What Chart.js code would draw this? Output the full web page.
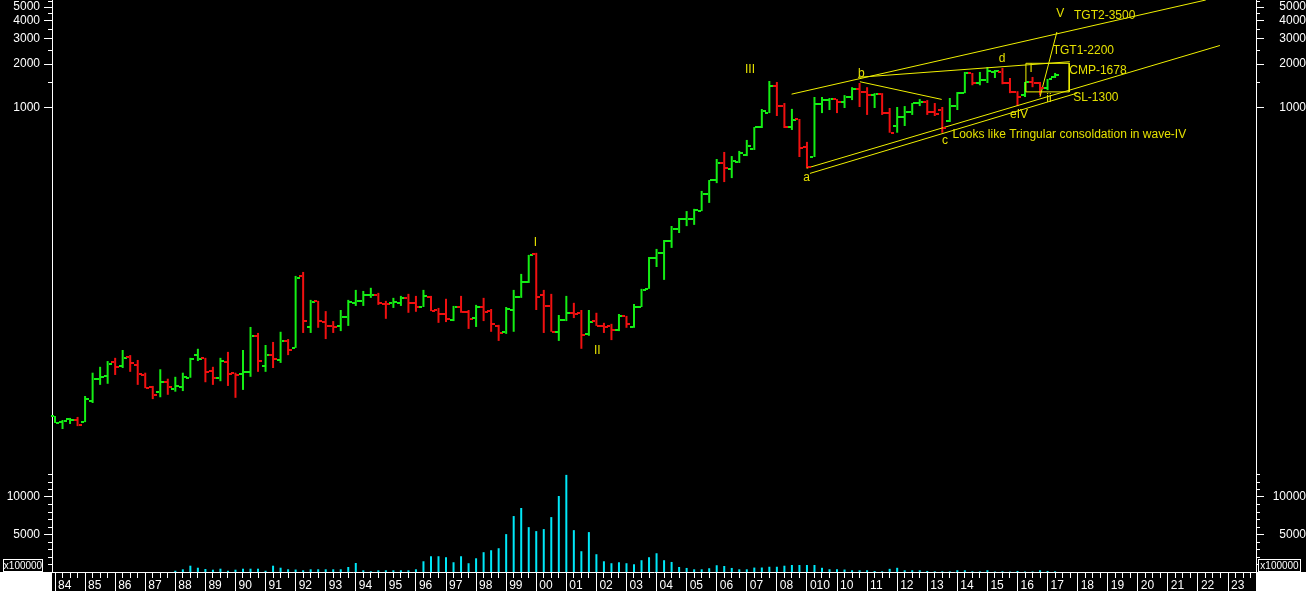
<!DOCTYPE html>
<html>
<head>
<meta charset="utf-8">
<script src="https://cdn.jsdelivr.net/npm/chart.js@4.4.1/dist/chart.umd.min.js"></script>
<style>
  html, body { margin: 0; padding: 0; background: #000; }
  #wrap { position: relative; width: 1306px; height: 591px; background: #000; overflow: hidden; }
  #price { position: absolute; left: 0; top: 0; width: 1306px; height: 470px; }
  #vol { position: absolute; left: 0; top: 470px; width: 1306px; height: 121px; }
</style>
</head>
<body>
<div id="wrap">
  <canvas id="price" width="1306" height="470"></canvas>
  <canvas id="vol" width="1306" height="121"></canvas>
</div>
<script>
// quarterly bars, 1984 Q1 .. 2017 Q2
const firstYear = 1984;
const open = [7.03,6.38,6.71,6.60,6.38,8.95,12.8,13.4,16.7,15.7,18.1,16.0,13.6,11.2,10.4,12.1,
  10.8,11.2,13.0,18.7,17.9,14.5,13.0,16.7,14.1,13.8,14.3,25.5,15.7,18.7,17.3,23.5,
  21.0,66.7,29.4,44.7,31.8,29.9,29.9,34.5,43.3,44.7,49.2,49.2,42.5,43.3,43.3,46.9,
  43.3,40.5,47.6,38.6,36.2,32.9,40.5,37.5,33.9,40.5,37.9,29.9,27.2,38.6,47.6,60.7,
  95.0,49.2,41.2,27.2,32.9,36.9,36.9,26.3,32.3,29.9,29.9,28.0,35.1,29.4,40.5,54.2,
  89.1,96.6,116.9,141.9,166.2,166.2,188.9,248.3,311.0,408.8,370.9,414.7,465.2,512.3,728.2,911.3,
  1407,1020,728.2,828.8,529.2,450.1,1054,1123,1141,1088,1180,1337,1277,1216,1235,911.3,
  740.9,856.5,928.6,1071,1088,928.6,957.1,802.5,1020,1255,1736,1478,1550,1764,1764,1478,
  1277,1216,1502,1478,1363,1628];
const high = [7.03,6.60,6.82,6.93,9.70,14.1,15.5,17.0,17.9,20.3,18.7,17.3,14.1,11.4,14.9,12.8,
  13.2,14.1,17.9,20.7,17.9,15.5,17.9,19.7,14.1,20.3,29.4,26.7,22.0,23.1,27.2,24.2,
  66.7,71.1,45.4,44.7,37.9,32.3,38.6,45.4,53.3,52.4,55.1,50.8,44.7,46.9,48.4,50.0,
  48.4,53.3,48.4,39.9,46.2,41.2,48.4,38.6,41.9,46.9,39.2,30.4,40.5,53.3,68.9,93.5,
  96.6,53.3,50.0,35.6,48.4,43.3,38.6,38.6,36.9,31.4,30.9,36.2,35.1,42.5,54.2,90.4,
  102.9,118.8,148.7,169.1,188.9,195.8,261.2,311.0,436.0,488.2,457.1,496.3,592.0,728.2,972.8,1525,
  1502,1071,974.8,828.8,573.9,1180,1180,1161,1141,1216,1381,1478,1381,1255,1255,988.8,
  1005,1020,1071,1141,1123,1071,1005,1161,1277,1764,1736,1764,1910,1821,1879,1601,
  1295,1502,1628,1502,1575,1736];
const low = [6.29,5.71,6.19,5.98,6.38,8.67,11.6,11.8,13.6,15.2,14.3,11.6,11.0,9.23,9.51,9.89,
  10.4,10.5,13.0,17.0,12.1,11.6,12.3,11.4,9.42,10.7,13.2,14.3,14.3,15.2,16.5,18.7,
  21.0,26.7,26.7,29.0,24.2,26.7,27.5,29.9,41.2,41.2,46.9,41.9,33.5,39.9,41.2,36.9,
  37.5,40.5,37.9,31.4,31.8,32.3,36.9,28.5,29.4,32.3,27.2,23.5,26.3,27.2,46.9,59.6,
  38.6,26.7,27.2,23.5,32.3,33.9,20.7,25.5,29.9,26.7,23.8,27.5,29.0,29.0,40.5,54.2,
  77.0,62.6,104.6,132.8,148.4,151.4,188.9,215.5,296.0,301.0,320.9,408.8,457.1,504.3,717.2,911.3,
  869.8,717.2,695.1,450.1,376.9,450.1,911.3,957.1,911.3,988.8,1123,1005,885.1,988.8,885.1,664.8,
  664.8,740.9,885.1,1020,885.1,869.8,664.8,789.4,957.1,1255,1425,1425,1478,1601,1448,1255,
  1020,1180,1381,1216,1316,1601];
const close = [6.29,6.48,6.60,6.08,9.23,12.8,13.2,16.3,15.5,17.9,16.5,13.8,11.0,9.89,12.1,11.2,
  11.4,13.2,17.6,17.6,14.3,13.0,17.0,13.8,13.6,14.3,25.5,17.0,18.7,17.6,23.5,20.3,
  64.6,32.3,44.0,32.3,29.9,29.4,34.5,44.0,44.7,49.2,49.2,43.3,42.5,44.0,46.9,43.3,
  40.5,48.4,37.9,36.2,33.5,40.5,37.5,33.5,40.5,37.5,30.9,26.7,39.2,47.6,60.7,93.5,
  47.6,41.2,27.2,32.9,36.9,36.2,25.8,31.8,29.9,29.4,28.0,35.1,30.9,40.5,53.3,89.1,
  96.6,116.9,141.9,166.2,166.2,191.9,248.3,311.0,408.8,376.9,421.7,480.2,537.5,728.2,942.1,1407,
  1020,728.2,815.6,522.3,382.9,1054,1123,1141,1088,1180,1337,1277,1216,1235,911.3,664.8,
  856.5,928.6,1071,1088,928.6,898.1,717.2,1020,1255,1736,1478,1550,1791,1805,1478,1277,
  1180,1502,1478,1363,1575,1678];

// volume in x100000, quarterly from 1988 Q1
const volStart = 1988;
const volume = [170,360,840,570,400,310,440,170,310,440,440,440,170,840,570,360,
  330,230,360,360,360,360,360,670,1200,230,100,230,230,230,230,230,
  360,1430,2100,2100,1970,1300,2100,1170,1830,2640,2900,3170,5050,7460,8530,5980,
  5450,5720,7320,10130,12950,5580,2770,5320,2370,1430,1170,1300,1170,1030,1570,1970,
  2500,1570,1340,670,540,360,360,500,900,800,540,360,360,590,600,700,
  700,840,930,930,930,930,560,370,370,330,230,230,230,140,90,420,
  560,230,230,230,140,90,90,90,230,230,90,90,230,60,90,60,
  140,60,60,230,140,90];

const yearLabels = ['84','85','86','87','88','89','90','91','92','93','94','95','96','97','98','99',
  '00','01','02','03','04','05','06','07','08','010','10','11','12','13','14','15',
  '16','17','18','19','20','21','22','23'];
const priceTicks = [1000, 2000, 3000, 4000, 5000];
const priceMinor = [1500, 2500, 3500, 4500, 5500];
const volTicks = [5000, 10000];
const volMinor = [1000, 2000, 3000, 4000, 6000, 7000, 8000, 9000, 11000, 12000, 13000];

// wave count annotations: [text, year, price]
const notes = [
  ['I', 1999.92, 113.3], ['II', 2001.92, 20.1], ['III', 2006.94, 1821],
  ['a', 2008.88, 321.8], ['b', 2010.70, 1721], ['c', 2013.49, 581.9], ['d', 2015.38, 2172],
  ['eIV', 2015.75, 885.1], ['i', 2016.41, 1850], ['ii', 2016.96, 1141], ['V', 2017.29, 4473],
  ['TGT2-3500', 2017.88, 4331], ['TGT1-2200', 2017.17, 2469], ['CMP-1678', 2017.72, 1806],
  ['SL-1300', 2017.85, 1168], ['Looks like Tringular consoldation in wave-IV', 2013.84, 641.4]
];
const trendLines = [
  [[2008.49, 1235], [2022.26, 5601]],
  [[2008.99, 376.0], [2022.73, 2698]],
  [[2009.10, 345.9], [2017.98, 1255]],
  [[2010.70, 1618], [2017.74, 2079]],
  [[2010.76, 1508], [2013.48, 1135]],
  [[2016.75, 1183], [2017.31, 3350]]
];
const cmpBox = [[2016.28, 2027], [2017.72, 2027], [2017.72, 1281], [2016.28, 1281], [2016.28, 2027]];

const X_MIN = 1983.9, X_MAX = 2023.93;
const P_MIN = 2.956, P_MAX = 5601;
const V_MAX = 13600;
const GREEN = '#14ee14', RED = '#f01010', CYAN = '#00e8f8', YELLOW = '#f0f000', NOTE = '#e4e000';
const FONT = '"Liberation Sans", Arial, sans-serif';

Chart.defaults.font.family = FONT;
Chart.defaults.font.size = 12;
Chart.defaults.color = '#ffffff';

const quarterX = close.map((_, i) => firstYear + i / 4);
const barColors = close.map((c, i) => (i === 0 || c >= close[i - 1]) ? GREEN : RED);

const noPad = s => { s.paddingTop = 0; s.paddingBottom = 0; s.paddingLeft = 0; s.paddingRight = 0; };

const yAxis = (type, pos, min, max, values, len, width, weight, labels, pad) => ({
  type, position: pos, min, max, weight,
  afterBuildTicks: s => { s.ticks = values.filter(v => v <= max).map(v => ({ value: v })); },
  afterFit: s => { s.width = width; noPad(s); },
  grid: { drawOnChartArea: false, drawTicks: true, tickLength: len, color: '#fff', tickColor: '#fff' },
  border: { display: labels, color: '#fff', width: 1 },
  ticks: {
    display: labels, color: '#fff', padding: pad, autoSkip: false,
    crossAlign: pos === 'right' ? 'far' : 'near',
    font: { family: FONT, size: 12 },
    callback: v => String(v)
  }
});

const ohlcTicks = {
  id: 'ohlcTicks',
  afterDatasetsDraw(chart) {
    const { ctx, scales: { x, yL } } = chart;
    ctx.save();
    close.forEach((c, i) => {
      const px = Math.round(x.getPixelForValue(quarterX[i]));
      ctx.fillStyle = barColors[i];
      ctx.fillRect(px - 4, Math.round(yL.getPixelForValue(open[i])) - 1, 3, 2);
      ctx.fillRect(px + 1, Math.round(yL.getPixelForValue(c)) - 1, 3, 2);
    });
    ctx.restore();
  }
};

const noteText = {
  id: 'noteText',
  afterDatasetsDraw(chart) {
    const { ctx, scales: { x, yL } } = chart;
    ctx.save();
    ctx.font = '12px ' + FONT;
    ctx.fillStyle = NOTE;
    ctx.textAlign = 'left';
    ctx.textBaseline = 'middle';
    notes.forEach(([t, nx, ny]) => ctx.fillText(t, x.getPixelForValue(nx), yL.getPixelForValue(ny)));
    ctx.restore();
  }
};

const lineSet = pts => ({
  type: 'line', yAxisID: 'yL', order: 1,
  data: pts.map(([x, y]) => ({ x, y })),
  borderColor: YELLOW, borderWidth: 1, pointRadius: 0, tension: 0, fill: false
});

new Chart(document.getElementById('price'), {
  data: {
    datasets: [
      {
        type: 'bar', yAxisID: 'yL', order: 2,
        data: quarterX.map((x, i) => ({ x, y: [low[i], high[i]] })),
        backgroundColor: barColors, barThickness: 2, borderWidth: 0, inflateAmount: 0, grouped: false
      },
      ...trendLines.map(lineSet),
      lineSet(cmpBox)
    ]
  },
  options: {
    responsive: false, animation: false, events: [],
    layout: { padding: 0 },
    plugins: { legend: { display: false }, tooltip: { enabled: false } },
    scales: {
      x: { type: 'linear', min: X_MIN, max: X_MAX, display: false, offset: false },
      yL: yAxis('logarithmic', 'left', P_MIN, P_MAX, priceTicks, 8, 52, 1, true, 4),
      yLm: yAxis('logarithmic', 'left', P_MIN, P_MAX, priceMinor, 4, 0, 0, false, 0),
      yR: yAxis('logarithmic', 'right', P_MIN, P_MAX, priceTicks, 8, 50, 1, true, 11),
      yRm: yAxis('logarithmic', 'right', P_MIN, P_MAX, priceMinor, 4, 0, 0, false, 0)
    }
  },
  plugins: [ohlcTicks, noteText]
});

const volDecor = {
  id: 'volDecor',
  afterDraw(chart) {
    const { ctx, chartArea: a, width, height } = chart;
    ctx.save();
    ctx.fillStyle = '#fff';
    ctx.fillRect(0, a.bottom, a.left, height - a.bottom);
    ctx.fillRect(a.right, a.bottom, width - a.right, height - a.bottom);
    ctx.strokeStyle = '#fff';
    ctx.lineWidth = 1;
    ctx.font = '10px ' + FONT;
    ctx.textBaseline = 'middle';
    ctx.textAlign = 'center';
    [[a.left - 49, 39], [a.right + 2, 42]].forEach(([bx, bw]) => {
      ctx.fillStyle = '#000';
      ctx.fillRect(bx, a.bottom - 12, bw, 11);
      ctx.strokeRect(bx + 0.5, a.bottom - 12.5, bw, 12);
      ctx.fillStyle = '#fff';
      ctx.fillText('x100000', bx + bw / 2 + 0.5, a.bottom - 6);
    });
    ctx.restore();
  }
};

const quarterTicks = [];
for (let y = firstYear; y < 2024; y++) for (let q = 0; q < 4; q++) quarterTicks.push(y + q / 4);

new Chart(document.getElementById('vol'), {
  data: {
    datasets: [{
      type: 'bar', yAxisID: 'vL',
      data: volume.map((v, i) => ({ x: volStart + i / 4, y: v })),
      backgroundColor: CYAN, barThickness: 2, borderWidth: 0, inflateAmount: 0, grouped: false
    }]
  },
  options: {
    responsive: false, animation: false, events: [],
    layout: { padding: 0 },
    plugins: { legend: { display: false }, tooltip: { enabled: false } },
    scales: {
      xq: {
        type: 'linear', position: 'bottom', weight: 0, min: X_MIN, max: X_MAX, offset: false,
        afterBuildTicks: s => { s.ticks = quarterTicks.map(v => ({ value: v })); },
        afterFit: s => { s.height = 0; noPad(s); },
        grid: { drawOnChartArea: false, tickLength: 6, color: '#fff', offset: false },
        border: { display: false },
        ticks: { display: false, autoSkip: false }
      },
      x: {
        type: 'linear', position: 'bottom', weight: 1, min: X_MIN, max: X_MAX, offset: false,
        afterBuildTicks: s => { s.ticks = yearLabels.map((_, i) => ({ value: firstYear + i })); },
        afterFit: s => { s.height = 19; noPad(s); },
        grid: { drawOnChartArea: false, tickLength: 19, color: '#fff', offset: false },
        border: { display: true, color: '#fff', width: 1 },
        ticks: {
          align: 'start', labelOffset: 3, padding: -13, maxRotation: 0, minRotation: 0,
          autoSkip: false, color: '#fff', font: { family: FONT, size: 12 },
          callback: (v, i) => yearLabels[i]
        }
      },
      vL: yAxis('linear', 'left', 0, V_MAX, volTicks, 8, 52, 1, true, 4),
      vLm: yAxis('linear', 'left', 0, V_MAX, volMinor, 4, 0, 0, false, 0),
      vR: yAxis('linear', 'right', 0, V_MAX, volTicks, 8, 50, 1, true, 4),
      vRm: yAxis('linear', 'right', 0, V_MAX, volMinor, 4, 0, 0, false, 0)
    }
  },
  plugins: [volDecor]
});
</script>
</body>
</html>
